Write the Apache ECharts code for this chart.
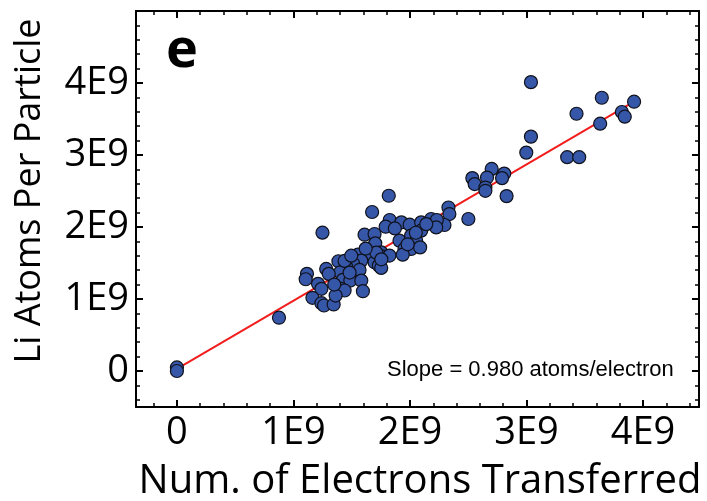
<!DOCTYPE html>
<html>
<head>
<meta charset="utf-8">
<script src="https://cdn.jsdelivr.net/npm/echarts@6/dist/echarts.min.js"></script>
<style>html,body{margin:0;padding:0;background:#fff}#c{width:707px;height:501px}</style>
</head>
<body>
<div id="c"></div>
<script>
const xTickValues = [0, 1e9, 2e9, 3e9, 4e9];
const xTickLabels = ['0', '1E9', '2E9', '3E9', '4E9'];
const yTickValues = [0, 1e9, 2e9, 3e9, 4e9];
const yTickLabels = ['0', '1E9', '2E9', '3E9', '4E9'];

// Num. of electrons transferred (units of 1E9)
const electrons = [
  0, 0, 0.876,
  3.038, 3.646, 3.923, 3.818, 3.843, 3.429, 3.632, 3.038, 2.998, 3.349, 3.452,
  2.701, 2.809, 2.535, 2.661, 2.790, 2.555, 2.647, 2.647, 2.829, 2.330, 2.338, 2.501, 2.296,
  1.818, 1.675, 1.249, 1.826, 1.926, 1.997, 1.791, 2.096, 2.182, 2.230, 2.225,
  1.610, 1.696, 1.702, 1.910, 2.010, 2.096, 2.053, 1.953, 2.010, 2.087, 1.938,
  1.553, 1.653, 1.753, 1.773, 1.824, 1.582, 1.510, 1.696, 1.733, 1.753,
  1.386, 1.452, 1.567, 1.401, 1.281, 1.303, 1.424, 1.488, 1.582, 1.410, 1.439, 1.596,
  1.116, 1.105, 1.211, 1.240, 1.163, 1.240, 1.262, 1.345, 1.362,
  1.439, 1.482, 1.496, 1.711, 1.754,
  1.870, 1.980, 2.140, 2.050, 1.620, 1.350
];
// Li atoms per particle (units of 1E9)
const liAtoms = [
  0.05, 0.0, 0.740,
  4.012, 3.795, 3.740, 3.597, 3.532, 3.573, 3.435, 3.255, 3.033, 2.970, 2.970,
  2.807, 2.742, 2.679, 2.687, 2.679, 2.596, 2.548, 2.503, 2.429, 2.271, 2.180, 2.111, 2.028,
  2.434, 2.208, 1.921, 2.097, 2.064, 2.032, 2.004, 2.064, 2.111, 2.097, 1.994,
  1.893, 1.903, 1.773, 1.810, 1.880, 1.949, 1.810, 1.695, 1.695, 1.717, 1.616,
  1.616, 1.634, 1.648, 1.589, 1.603, 1.533, 1.496, 1.510, 1.464, 1.432,
  1.524, 1.450, 1.404, 1.371, 1.418, 1.349, 1.266, 1.256, 1.256, 1.141, 1.118, 1.108,
  1.349, 1.274, 1.211, 1.141, 1.017, 0.942, 0.910, 0.924, 1.048,
  1.529, 1.367, 1.602, 1.644, 1.551,
  1.980, 1.760, 2.040, 1.920, 1.700, 1.200
];
const fitX = [0, 3.94];
const fitY = [0.03, 3.76];
const slopeText = 'Slope = 0.980 atoms/electron';
const panelLabel = 'e';
const xTitle = 'Num. of Electrons Transferred';
const yTitle = 'Li Atoms Per Particle';

const E = 1e9;
const xMin = -0.351 * E, xMax = 4.48 * E, yMin = -0.5 * E, yMax = 5 * E;
const minor = (lo, hi) => { const a = []; for (let v = Math.ceil(lo / 0.2e9); v * 0.2e9 <= hi; v++) a.push(v * 0.2e9); return a; };
const xMinor = minor(xMin, xMax), yMinor = minor(yMin, yMax);

const lbl = (vals, labs) => v => { const i = vals.findIndex(t => Math.abs(t - v) < 1); return i >= 0 ? labs[i] : ''; };
const font = 'Open Sans';

function axis(kind, pos, major, showLabel) {
  const vals = kind === 'x' ? xTickValues : yTickValues;
  const labs = kind === 'x' ? xTickLabels : yTickLabels;
  return {
    type: 'value', position: pos,
    min: kind === 'x' ? xMin : yMin, max: kind === 'x' ? xMax : yMax,
    splitLine: { show: false },
    axisLine: { show: major, onZero: false, lineStyle: { color: '#000', width: 2 } },
    axisTick: { show: true, inside: true, length: major ? 7 : 4,
      customValues: major ? vals : (kind === 'x' ? xMinor : yMinor),
      lineStyle: { color: '#000', width: major ? 2 : 1.5 } },
    axisLabel: { show: showLabel, customValues: vals, formatter: lbl(vals, labs),
      fontFamily: font, fontSize: 38, color: '#000', margin: 7 }
  };
}

const chart = echarts.init(document.getElementById('c'), null, { renderer: 'canvas' });
chart.setOption({
  animation: false,
  grid: { left: 136, right: 8, top: 11, bottom: 94, containLabel: false, outerBoundsMode: 'none' },
  xAxis: [axis('x', 'bottom', true, true), axis('x', 'bottom', false, false), axis('x', 'top', true, false), axis('x', 'top', false, false)],
  yAxis: [axis('y', 'left', true, true), axis('y', 'left', false, false), axis('y', 'right', true, false), axis('y', 'right', false, false)],
  series: [
    { type: 'line', xAxisIndex: 0, yAxisIndex: 0, data: fitX.map((x, i) => [x * E, fitY[i] * E]),
      symbol: 'none', lineStyle: { color: '#f21d1d', width: 2 }, z: 1 },
    { type: 'scatter', xAxisIndex: 0, yAxisIndex: 0, data: electrons.map((x, i) => [x * E, liAtoms[i] * E]),
      symbolSize: 13, itemStyle: { color: '#3656a8', borderColor: '#10121c', borderWidth: 1.2, opacity: 1 }, z: 3 }
  ],
  graphic: [
    { type: 'text', x: 30, y: 191, rotation: Math.PI / 2,
      style: { text: yTitle, fontFamily: font, fontSize: 36, fill: '#000', textAlign: 'center', textVerticalAlign: 'middle' } },
    { type: 'text', x: 420, y: 482,
      style: { text: xTitle, fontFamily: font, fontSize: 40, fill: '#000', textAlign: 'center', textVerticalAlign: 'middle' } },
    { type: 'text', x: 166, y: 52,
      style: { text: panelLabel, fontFamily: font, fontWeight: 'bold', fontSize: 54, fill: '#000', textAlign: 'left', textVerticalAlign: 'middle' } },
    { type: 'text', x: 387, y: 370,
      style: { text: slopeText, fontFamily: 'Liberation Sans', fontSize: 22, fill: '#000', textAlign: 'left', textVerticalAlign: 'middle' } }
  ]
});
</script>
</body>
</html>
